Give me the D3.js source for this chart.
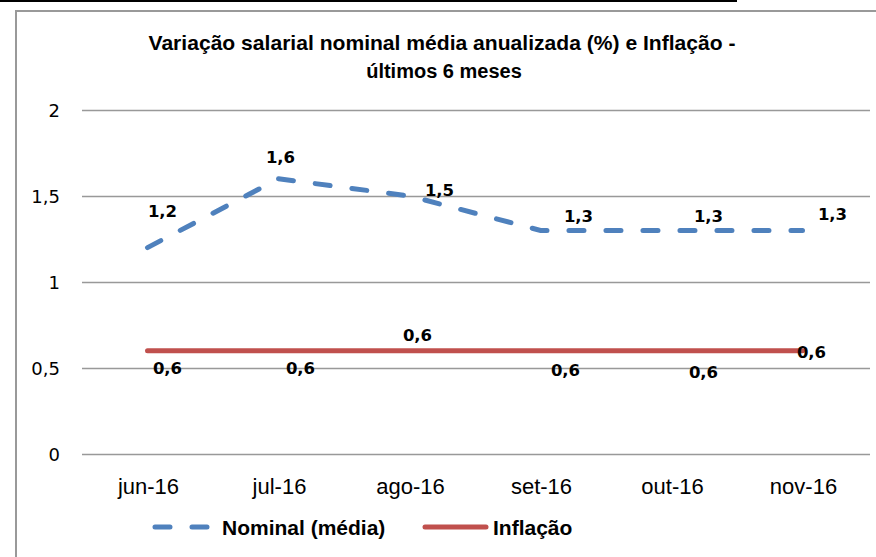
<!DOCTYPE html>
<html>
<head>
<meta charset="utf-8">
<script src="https://cdn.jsdelivr.net/npm/d3@7"></script>
<style>
body{margin:0;background:#fff}
svg{display:block}
.sans{font-family:"Liberation Sans",Arial,sans-serif}
.wide{font-family:"DejaVu Sans",Verdana,sans-serif}
</style>
</head>
<body>
<script>
var meses = ['jun-16','jul-16','ago-16','set-16','out-16','nov-16']
var nominal = [1.2,1.6,1.5,1.3,1.3,1.3]
var inflacao = [0.6,0.6,0.6,0.6,0.6,0.6]
var yTicks = [0,0.5,1,1.5,2]

// posicao manual dos rotulos (como no original)
var nomOff = [[15,-37],[2,-22],[30,-6],[38,-14],[37,-14],[30,-16]]
var infOff = [[20,17],[22,17],[8,-16],[25,19],[32,21],[9,1]]

var W = 876, H = 557
var svg = d3.select('body').append('svg').attr('width',W).attr('height',H)

svg.append('rect').attr('x',0).attr('y',0).attr('width',737).attr('height',2).attr('fill','#000')
svg.append('path').attr('d','M 16 557 L 16 11 L 876 11')
	.attr('fill','none').attr('stroke','#999').attr('stroke-width',2)

var x = d3.scaleBand().domain(meses).range([82,868])
var y = d3.scaleLinear().domain([0,2]).range([454,110])
var fmt = v=>String(v).replace('.',',')

svg.append('text').attr('class','sans').attr('text-anchor','middle')
	.style('font-weight','bold').style('font-size','21px')
	.attr('x',442).attr('y',50).attr('textLength',587).attr('lengthAdjust','spacingAndGlyphs')
	.text('Variação salarial nominal média anualizada (%) e Inflação -')
svg.append('text').attr('class','sans').attr('text-anchor','middle')
	.style('font-weight','bold').style('font-size','20px')
	.attr('x',444).attr('y',78).text('últimos 6 meses')

var grid = svg.append('g')
yTicks.forEach((t,i)=>{
	grid.append('line').attr('x1',82).attr('x2',870)
		.attr('y1',Math.round(y(t))+0.5).attr('y2',Math.round(y(t))+0.5)
		.attr('stroke','#999').attr('stroke-width',1.5)
	grid.append('text').attr('class','wide').attr('text-anchor','end')
		.attr('x',60).attr('y',y(t)+6.5).style('font-size','18px').text(fmt(t))
})

meses.forEach((m,i)=>{
	svg.append('text').attr('class','sans').attr('text-anchor','middle')
		.attr('x',x(m)+x.bandwidth()/2+1).attr('y',494).style('font-size','22px').text(m)
})

var cx = m=>x(m)+x.bandwidth()/2
var line = d3.line().x((d,i)=>cx(meses[i])).y(d=>y(d))

svg.append('path').datum(inflacao).attr('d',line)
	.attr('fill','none').attr('stroke','#C0504D').attr('stroke-width',5).attr('stroke-linecap','round')
svg.append('path').datum(nominal).attr('d',line)
	.attr('fill','none').attr('stroke','#4F81BD').attr('stroke-width',5)
	.attr('stroke-linecap','round').attr('stroke-dasharray','15,22')

var lbl = svg.append('g').attr('class','wide').style('font-weight','bold').style('font-size','16.5px')
	.attr('text-anchor','middle')
nominal.forEach((v,i)=>{
	lbl.append('text').attr('x',cx(meses[i])+nomOff[i][0]).attr('y',y(v)+nomOff[i][1]+6).text(fmt(v))
})
inflacao.forEach((v,i)=>{
	lbl.append('text').attr('x',cx(meses[i])+infOff[i][0]).attr('y',y(v)+infOff[i][1]+6).text(fmt(v))
})

// legenda
var leg = svg.append('g')
leg.append('line').attr('x1',155).attr('x2',209).attr('y1',527).attr('y2',527)
	.attr('stroke','#4F81BD').attr('stroke-width',5).attr('stroke-linecap','round').attr('stroke-dasharray','15,22')
leg.append('text').attr('class','sans').attr('x',222).attr('y',535)
	.style('font-weight','bold').style('font-size','21px').text('Nominal (média)')
leg.append('line').attr('x1',425).attr('x2',486).attr('y1',527).attr('y2',527)
	.attr('stroke','#C0504D').attr('stroke-width',5).attr('stroke-linecap','round')
leg.append('text').attr('class','sans').attr('x',493).attr('y',535)
	.style('font-weight','bold').style('font-size','21px').text('Inflação')
</script>
</body>
</html>
